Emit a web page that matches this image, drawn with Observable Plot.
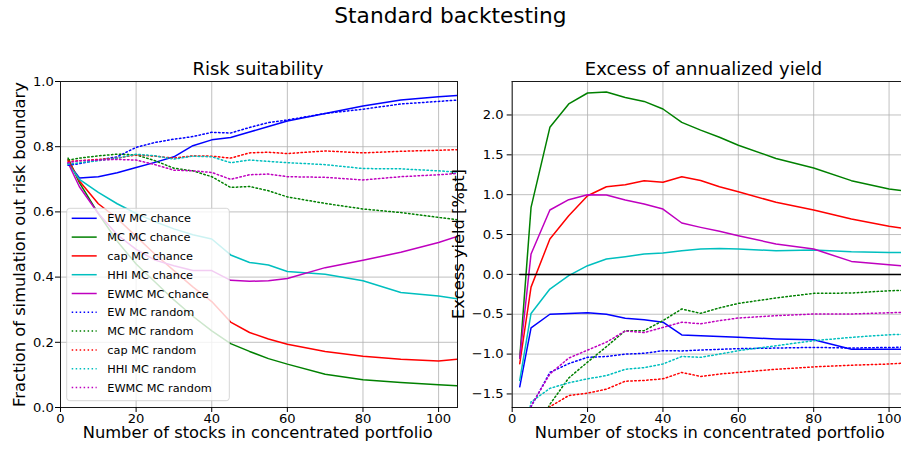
<!DOCTYPE html>
<html><head><meta charset="utf-8">
<script src="https://cdn.jsdelivr.net/npm/d3@7"></script>
<script src="https://cdn.jsdelivr.net/npm/@observablehq/plot@0.6"></script>
<style>
body{margin:0;background:#fff;overflow:hidden}
#wrap{position:relative;width:901px;height:449px;font-family:"DejaVu Sans",sans-serif;color:#000;overflow:hidden}
#wrap > svg{position:absolute;top:0}
</style></head><body><div id="wrap"></div>
<script>
// ---------- data ----------
const xs = [2,5,10,15,20,25,30,35,40,45,50,55,60,70,80,90,100,105];
const seriesNames = ["EW MC chance","MC MC chance","cap MC chance","HHI MC chance","EWMC MC chance",
                     "EW MC random","MC MC random","cap MC random","HHI MC random","EWMC MC random"];
const colors = ["#0000ff","#008000","#ff0000","#00bfbf","#bf00bf"];
const xTicks = [0,20,40,60,80,100];
const riskTicks = [0,0.2,0.4,0.6,0.8,1.0];
const yieldTicks = [-1.5,-1.0,-0.5,0,0.5,1.0,1.5,2.0];

// Risk suitability
const riskEW_chance   = [0.750,0.704,0.708,0.720,0.736,0.752,0.769,0.803,0.821,0.828,0.845,0.862,0.879,0.902,0.925,0.943,0.953,0.957];
const riskMC_chance   = [0.765,0.690,0.595,0.510,0.440,0.385,0.330,0.280,0.235,0.196,0.172,0.150,0.133,0.102,0.085,0.077,0.070,0.067];
const riskCap_chance  = [0.760,0.695,0.625,0.580,0.525,0.470,0.420,0.370,0.325,0.262,0.230,0.210,0.194,0.172,0.157,0.148,0.143,0.148];
const riskHHI_chance  = [0.748,0.700,0.660,0.625,0.595,0.570,0.548,0.530,0.517,0.468,0.445,0.437,0.417,0.409,0.389,0.353,0.342,0.333];
const riskEWMC_chance = [0.750,0.677,0.595,0.530,0.485,0.452,0.435,0.420,0.420,0.390,0.387,0.389,0.396,0.429,0.452,0.476,0.506,0.525];
const riskEW_random   = [0.743,0.748,0.759,0.769,0.798,0.813,0.823,0.831,0.844,0.842,0.859,0.874,0.882,0.902,0.915,0.931,0.939,0.943];
const riskMC_random   = [0.759,0.765,0.772,0.777,0.775,0.757,0.734,0.726,0.708,0.675,0.678,0.665,0.646,0.626,0.609,0.598,0.583,0.576];
const riskCap_random  = [0.755,0.757,0.761,0.765,0.775,0.771,0.765,0.772,0.771,0.765,0.781,0.783,0.779,0.787,0.781,0.786,0.789,0.791];
const riskHHI_random  = [0.746,0.751,0.757,0.765,0.777,0.772,0.762,0.771,0.769,0.751,0.759,0.755,0.751,0.745,0.733,0.732,0.726,0.722];
const riskEWMC_random = [0.751,0.757,0.759,0.761,0.759,0.745,0.728,0.726,0.721,0.700,0.714,0.716,0.708,0.706,0.698,0.708,0.714,0.718];

// Excess of annualized yield
const yldEW_chance   = [-1.41,-0.67,-0.50,-0.49,-0.48,-0.50,-0.55,-0.57,-0.60,-0.76,-0.77,-0.78,-0.79,-0.81,-0.82,-0.94,-0.94,-0.94];
const yldMC_chance   = [-1.05,0.84,1.845,2.138,2.276,2.288,2.22,2.17,2.075,1.907,1.81,1.72,1.62,1.455,1.335,1.176,1.071,1.04];
const yldCap_chance  = [-1.12,-0.16,0.444,0.736,0.987,1.10,1.125,1.175,1.155,1.226,1.178,1.10,1.038,0.904,0.808,0.695,0.603,0.57];
const yldHHI_chance  = [-1.33,-0.49,-0.184,-0.016,0.109,0.193,0.222,0.256,0.268,0.297,0.318,0.326,0.318,0.297,0.305,0.285,0.276,0.275];
const yldEWMC_chance = [-1.05,0.256,0.808,0.937,1.0,0.996,0.933,0.883,0.82,0.645,0.59,0.54,0.486,0.381,0.318,0.163,0.122,0.10];
const yldEW_random   = [-2.5,-1.66,-1.23,-1.12,-1.04,-1.03,-1.0,-0.99,-0.957,-0.96,-0.949,-0.94,-0.932,-0.924,-0.916,-0.924,-0.916,-0.915];
const yldMC_random   = [-2.8,-2.1,-1.63,-1.30,-1.10,-0.907,-0.706,-0.706,-0.58,-0.434,-0.489,-0.42,-0.364,-0.296,-0.238,-0.234,-0.205,-0.20];
const yldCap_random  = [-2.6,-2.2,-1.66,-1.52,-1.49,-1.44,-1.34,-1.33,-1.31,-1.23,-1.28,-1.25,-1.23,-1.19,-1.16,-1.14,-1.124,-1.11];
const yldHHI_random  = [-2.4,-1.60,-1.43,-1.36,-1.31,-1.27,-1.19,-1.17,-1.124,-1.03,-1.04,-1.0,-0.957,-0.895,-0.832,-0.79,-0.757,-0.75];
const yldEWMC_random = [-2.5,-1.65,-1.25,-1.05,-0.95,-0.85,-0.71,-0.73,-0.665,-0.60,-0.62,-0.58,-0.547,-0.518,-0.497,-0.497,-0.481,-0.475];

const riskSeries = [riskEW_chance,riskMC_chance,riskCap_chance,riskHHI_chance,riskEWMC_chance,
                    riskEW_random,riskMC_random,riskCap_random,riskHHI_random,riskEWMC_random];
const yieldSeries = [yldEW_chance,yldMC_chance,yldCap_chance,yldHHI_chance,yldEWMC_chance,
                     yldEW_random,yldMC_random,yldCap_random,yldHHI_random,yldEWMC_random];

// ---------- drawing ----------
const DOT = "1.5,2.475";
const FONT = "DejaVu Sans";
const gridStyle = {stroke:"#b0b0b0", strokeOpacity:1, strokeWidth:0.8};
const fmt1 = d3.format(".1f");

function lineMarks(series) {
  return series.map((vals, i) => {
    const opts = {x:"x", y:"y", stroke: colors[i % 5], strokeWidth: 1.5, clip: true};
    if (i >= 5) opts.strokeDasharray = DOT;
    return Plot.line(xs.map((x, j) => ({x, y: vals[j]})), opts);
  });
}

const wrap = document.getElementById("wrap");
const baseStyle = {background:"transparent", fontFamily: FONT, fontSize:"13.1px", overflow:"visible", color:"#000"};

const leftPlot = Plot.plot({
  width: 460, height: 449,
  marginLeft: 60, marginRight: 3, marginTop: 81, marginBottom: 42,
  style: baseStyle,
  x: {domain: [0, 105]},
  y: {domain: [0, 1]},
  marks: [
    Plot.gridX(xTicks, gridStyle),
    Plot.gridY(riskTicks, gridStyle),
    ...lineMarks(riskSeries),
    Plot.frame({stroke:"#1a1a1a", strokeWidth:1}),
    Plot.axisX(xTicks, {tickSize:5, tickPadding:1.5, label:null, fontSize:13.1}),
    Plot.axisY(riskTicks, {tickSize:5, tickPadding:1.7, tickFormat: fmt1, label:null, fontSize:13.1})
  ]
});
leftPlot.style.left = "0px";
wrap.appendChild(leftPlot);

const yDom = [-1.67, 2.42];
const rightPlot = Plot.plot({
  width: 441, height: 449,
  marginLeft: 51.7, marginRight: 0, marginTop: 81, marginBottom: 42,
  style: baseStyle,
  x: {domain: [0, 103.3]},
  y: {domain: yDom},
  marks: [
    Plot.gridX(xTicks, gridStyle),
    Plot.gridY(yieldTicks, gridStyle),
    ...lineMarks(yieldSeries),
    Plot.line(xs, {x: d => d, y: () => 0, stroke:"#000", strokeWidth:1.5, clip:true}),
    Plot.ruleX([0], {stroke:"#1a1a1a", strokeWidth:1}),
    Plot.ruleY(yDom, {stroke:"#1a1a1a", strokeWidth:1}),
    Plot.axisX(xTicks, {tickSize:5, tickPadding:1.5, label:null, fontSize:13.1}),
    Plot.axisY(yieldTicks, {tickSize:5, tickPadding:3.7, tickFormat: fmt1, label:null, fontSize:13.1})
  ]
});
rightPlot.style.left = "460px";
wrap.appendChild(rightPlot);

// ---------- overlay: titles, labels, legend ----------
const ov = d3.select(wrap).append("svg")
  .attr("width", 901).attr("height", 449)
  .style("left","0px").style("pointer-events","none")
  .attr("font-family", FONT);

function txt(s, x, y, size, rotate) {
  const t = ov.append("text").text(s).attr("font-size", size).attr("text-anchor","middle").attr("fill","#000");
  if (rotate) t.attr("transform", `translate(${x},${y}) rotate(-90)`);
  else t.attr("x", x).attr("y", y);
}
txt("Standard backtesting", 450.5, 23, 21.7);
txt("Risk suitability", 258, 75, 18);
txt("Excess of annualized yield", 703.5, 75, 18);
txt("Number of stocks in concentrated portfolio", 257.7, 438, 16.3);
txt("Number of stocks in concentrated portfolio", 709.7, 438, 16.3);
txt("Fraction of simulation out risk boundary", 24.5, 244.5, 16.3, true);
txt("Excess yield [%pt]", 463.5, 244, 16.3, true);

// legend (left panel)
const lg = ov.append("g");
lg.append("rect").attr("x", 66.7).attr("y", 208.3).attr("width", 162.6).attr("height", 192.4)
  .attr("rx", 3).attr("fill", "#fff").attr("fill-opacity", 0.8)
  .attr("stroke", "#cccccc").attr("stroke-opacity", 0.8).attr("stroke-width", 1);
seriesNames.forEach((name, i) => {
  const cy = 218.3 + 18.8 * i;
  const ln = lg.append("line").attr("x1", 71.7).attr("x2", 96.7).attr("y1", cy).attr("y2", cy)
    .attr("stroke", colors[i % 5]).attr("stroke-width", 1.5);
  if (i >= 5) ln.attr("stroke-dasharray", DOT);
  lg.append("text").text(name).attr("x", 107.3).attr("y", cy + 4.1)
    .attr("font-size", 11.3).attr("fill", "#000");
});
</script>
</body></html>
